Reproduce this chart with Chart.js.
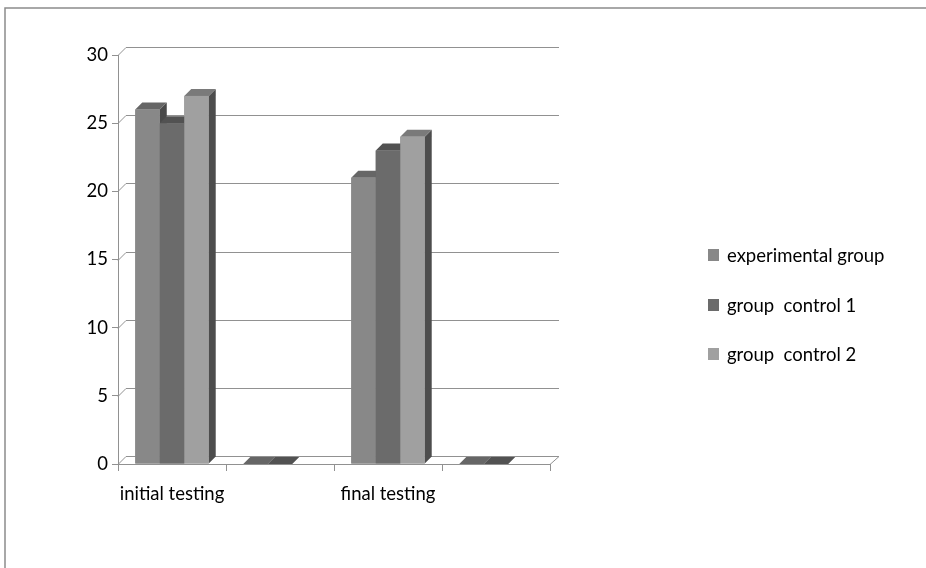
<!DOCTYPE html>
<html>
<head>
<meta charset="utf-8">
<script src="https://cdn.jsdelivr.net/npm/chart.js@4/dist/chart.umd.min.js"></script>
<style>
  html, body { margin: 0; padding: 0; background: #fff; overflow: hidden; }
  #wrap { position: relative; width: 926px; height: 568px; }
</style>
</head>
<body>
<div id="wrap"><canvas id="chart" width="926" height="568"></canvas></div>
<script>
// Categories along the x axis (two unlabelled slots hold empty / zero columns)
const categories = ['initial testing', '', 'final testing', ''];

// Series values
const experimentalGroup = [26, 0, 21, 0];
const groupControl1 = [25, 0, 23, 0];
const groupControl2 = [27, null, 24, null];

const seriesNames = ['experimental group', 'group  control 1', 'group  control 2'];

// Value axis ticks
const yTickValues = [0, 5, 10, 15, 20, 25, 30];

// Face colours for the pseudo-3D columns
const frontColors = ['#888888', '#6b6b6b', '#a0a0a0'];
const topColors = ['#666666', '#525252', '#7a7a7a'];
const sideColors = ['#4a4a4a', '#454545', '#4d4d4d'];

const FONT = 'Lato, "Open Sans", sans-serif';
const FONT_SIZE = 18.5;
const BAR_DEPTH = 7;
const WALL_DEPTH = 8;
const LINE = '#919191';

// Back wall gridlines, floor and the left-hand tick connectors
const wallPlugin = {
  id: 'wall3d',
  beforeDatasetsDraw(chart) {
    const { ctx, chartArea: a, scales: { y } } = chart;
    ctx.save();
    ctx.strokeStyle = LINE;
    ctx.lineWidth = 1;
    yTickValues.forEach(v => {
      const py = Math.round(y.getPixelForValue(v)) + 0.5;
      ctx.beginPath();
      ctx.moveTo(a.left, py);
      ctx.lineTo(a.left + WALL_DEPTH, py - WALL_DEPTH);
      ctx.lineTo(a.right + WALL_DEPTH + 1, py - WALL_DEPTH);
      if (v === 0) ctx.lineTo(a.right, py);
      ctx.stroke();
    });
    ctx.restore();
  },
  afterDatasetsDraw(chart) {
    const { ctx } = chart;
    const metas = chart.data.datasets.map((_, i) => chart.getDatasetMeta(i));
    ctx.save();
    for (let c = 0; c < categories.length; c++) {
      metas.forEach((meta, d) => {
        const raw = chart.data.datasets[d].data[c];
        if (raw === null || raw === undefined) return;
        const el = meta.data[c];
        const p = el.getProps(['x', 'y', 'base', 'width'], true);
        const xl = p.x - p.width / 2, xr = p.x + p.width / 2;
        const yt = Math.min(p.y, p.base), yb = Math.max(p.y, p.base);
        const k = BAR_DEPTH;
        // side face
        if (yb - yt > 0.5) {
          ctx.fillStyle = sideColors[d];
          ctx.beginPath();
          ctx.moveTo(xr, yt); ctx.lineTo(xr + k, yt - k);
          ctx.lineTo(xr + k, yb - k); ctx.lineTo(xr, yb);
          ctx.closePath(); ctx.fill();
        }
        // top face
        ctx.fillStyle = topColors[d];
        ctx.beginPath();
        ctx.moveTo(xl, yt); ctx.lineTo(xr, yt);
        ctx.lineTo(xr + k, yt - k); ctx.lineTo(xl + k, yt - k);
        ctx.closePath(); ctx.fill();
        // front face
        if (yb - yt > 0.5) {
          ctx.fillStyle = frontColors[d];
          ctx.fillRect(xl, yt, xr - xl, yb - yt);
        }
      });
    }
    ctx.restore();
  }
};

// Legend on the right and the frame line along the top / left edges
const sidePlugin = {
  id: 'sideLegend',
  afterDraw(chart) {
    const { ctx } = chart;
    ctx.save();
    ctx.strokeStyle = '#8c8c8c';
    ctx.lineWidth = 1.5;
    ctx.beginPath();
    ctx.moveTo(5, 600); ctx.lineTo(5, 8); ctx.lineTo(940, 8);
    ctx.stroke();

    ctx.font = FONT_SIZE + 'px ' + FONT;
    ctx.textBaseline = 'middle';
    const rows = [255, 305, 354];
    chart.data.datasets.forEach((ds, i) => {
      ctx.fillStyle = frontColors[i];
      ctx.fillRect(708, rows[i] - 6, 11, 12);
      ctx.fillStyle = '#000';
      ctx.fillText(ds.label, 727, rows[i] + 1);
    });
    ctx.restore();
  }
};

const allSeries = [experimentalGroup, groupControl1, groupControl2];

new Chart(document.getElementById('chart'), {
  type: 'bar',
  data: {
    labels: categories,
    datasets: allSeries.map((vals, i) => ({
      label: seriesNames[i],
      data: vals,
      backgroundColor: frontColors[i],
      borderWidth: 0,
      categoryPercentage: 0.68,
      barPercentage: 1.0
    }))
  },
  options: {
    responsive: false,
    animation: false,
    devicePixelRatio: 1,
    layout: { padding: { top: 55, right: 376, left: 0, bottom: 0 } },
    plugins: {
      legend: { display: false },
      tooltip: { enabled: false }
    },
    scales: {
      x: {
        offset: true,
        grid: { offset: true, drawOnChartArea: false, drawTicks: true, tickLength: 7, color: LINE },
        border: { display: true, color: LINE },
        ticks: { font: { family: FONT, size: FONT_SIZE }, color: '#000', padding: 12, maxRotation: 0, autoSkip: false },
        afterFit(scale) { scale.height = 104; }
      },
      y: {
        min: 0,
        max: 30,
        afterBuildTicks(scale) { scale.ticks = yTickValues.map(v => ({ value: v })); },
        grid: { drawOnChartArea: false, drawTicks: true, tickLength: 6, color: LINE },
        border: { display: true, color: LINE },
        ticks: { font: { family: FONT, size: FONT_SIZE }, color: '#000', padding: 4 },
        afterFit(scale) { scale.width = 118; }
      }
    }
  },
  plugins: [wallPlugin, sidePlugin]
});
</script>
</body>
</html>
